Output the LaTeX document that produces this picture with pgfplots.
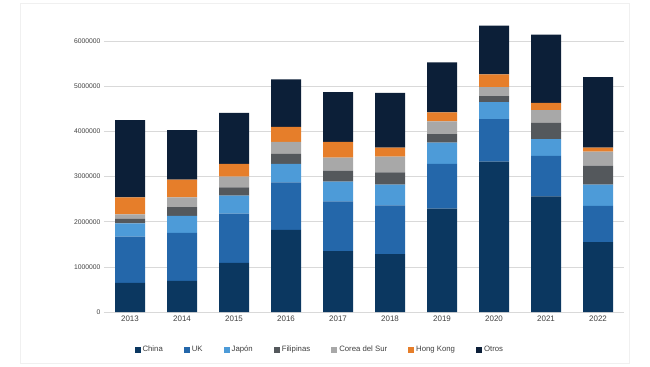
\documentclass[border=0pt]{standalone}
\usepackage{pgfplots}
\pgfplotsset{compat=1.18}
\usepackage{fontspec}
\setmainfont{Liberation Sans}
\definecolor{cChina}{HTML}{0B3760}
\definecolor{cUK}{HTML}{2467AA}
\definecolor{cJapon}{HTML}{4D9BD8}
\definecolor{cFil}{HTML}{54585C}
\definecolor{cCorea}{HTML}{A8A8A8}
\definecolor{cHK}{HTML}{E67E2A}
\definecolor{cOtros}{HTML}{0C1F38}
\begin{document}
\begin{tikzpicture}[x=1bp,y=1bp]
\path[use as bounding box] (-104,-54) rectangle (546,312);
\draw[gray!12,line width=0.8bp] (-84,-51) rectangle (525,309);
\begin{axis}[
  at={(0,0)}, anchor=south west,
  scale only axis, width=520bp, height=289bp,
  xmin=-0.5, xmax=9.5, ymin=0, ymax=6400000,
  ybar stacked, bar width=30bp,
  axis line style={draw=none},
  xtick=data,
  xticklabels={2013,2014,2015,2016,2017,2018,2019,2020,2021,2022},
  ytick={0,1000000,2000000,3000000,4000000,5000000,6000000},
  yticklabels={0,1000000,2000000,3000000,4000000,5000000,6000000},
  tick style={draw=none},
  ymajorgrids, major grid style={gray!30, line width=0.6bp},
  xticklabel style={font=\fontsize{8}{9}\selectfont, text=black!75},
  yticklabel style={font=\fontsize{6.8}{7}\selectfont, text=black!75},
  major tick length=0pt,
  xtick pos=bottom,
  scaled y ticks=false,
  legend columns=7,
  legend style={draw=none, at={(0.415,-0.131)}, anchor=center,
    font=\fontsize{7.8}{9}\selectfont, text=black!75,
    /tikz/every even column/.append style={column sep=19bp}},
  legend image code/.code={\fill[#1,draw=none] (0bp,-3bp) rectangle (6bp,3bp);},
  every axis plot/.append style={draw=none},
]
\addplot+[fill=cChina] coordinates {(0,645000)(1,690000)(2,1090000)(3,1820000)(4,1350000)(5,1280000)(6,2290000)(7,3330000)(8,2560000)(9,1550000)};
\addplot+[fill=cUK] coordinates {(0,1025000)(1,1060000)(2,1090000)(3,1050000)(4,1100000)(5,1080000)(6,990000)(7,940000)(8,900000)(9,800000)};
\addplot+[fill=cJapon] coordinates {(0,295000)(1,380000)(2,400000)(3,410000)(4,440000)(5,460000)(6,470000)(7,380000)(8,370000)(9,470000)};
\addplot+[fill=cFil] coordinates {(0,95000)(1,190000)(2,180000)(3,220000)(4,240000)(5,270000)(6,190000)(7,130000)(8,360000)(9,420000)};
\addplot+[fill=cCorea] coordinates {(0,100000)(1,220000)(2,240000)(3,270000)(4,290000)(5,350000)(6,280000)(7,200000)(8,280000)(9,310000)};
\addplot+[fill=cHK] coordinates {(0,380000)(1,390000)(2,280000)(3,330000)(4,350000)(5,200000)(6,200000)(7,280000)(8,160000)(9,90000)};
\addplot+[fill=cOtros] coordinates {(0,1710000)(1,1100000)(2,1130000)(3,1050000)(4,1100000)(5,1210000)(6,1110000)(7,1080000)(8,1510000)(9,1560000)};
\legend{China,UK,Japón,Filipinas\hspace{20bp},Corea del Sur,Hong Kong,Otros}
\end{axis}
\end{tikzpicture}
\end{document}
